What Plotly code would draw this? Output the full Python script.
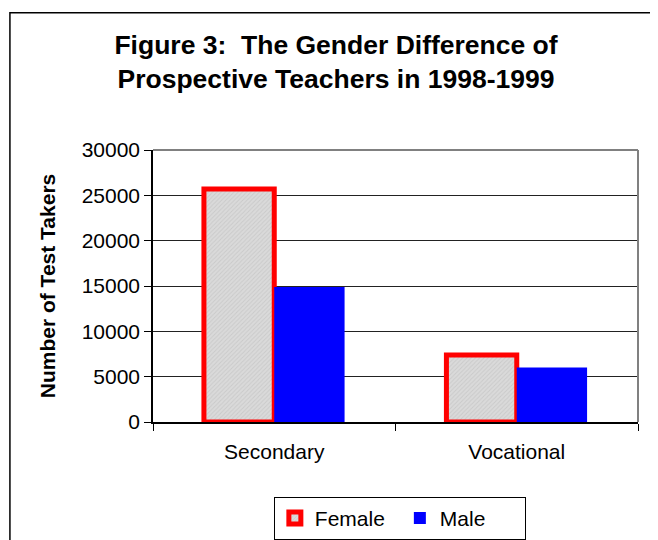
import plotly.graph_objects as go

categories = ["Secondary", "Vocational"]
female = [25700, 7400]
male = [14900, 6000]
y_ticks = [0, 5000, 10000, 15000, 20000, 25000, 30000]
y_tick_labels = ["0", "5000", "10000", "15000", "20000", "25000", "30000"]

FONT = "Arial, Liberation Sans, sans-serif"

fig = go.Figure()
fig.add_trace(go.Bar(
    x=categories, y=female, name="Female",
    marker=dict(
        color="#d6d6d6",
        line=dict(color="#ff0000", width=5),
        pattern=dict(shape="/", fgcolor="#b8b8b8", bgcolor="#dadada", size=3, solidity=0.3),
    ),
))
fig.add_trace(go.Bar(
    x=categories, y=male, name="Male",
    marker=dict(color="#0000ff", line=dict(width=0)),
))

fig.update_layout(
    width=650, height=532,
    margin=dict(l=145, r=20, t=142, b=118, autoexpand=False),
    paper_bgcolor="white", plot_bgcolor="white",
    font=dict(family=FONT, color="black", size=21),
    title=dict(
        text="<b>Figure 3:  The Gender Difference of<br>Prospective Teachers in 1998-1999</b>",
        x=(336 - 8) / 650, xanchor="center", xref="container", yref="container",
        y=1 - 46 / 532, yanchor="top",
        font=dict(size=26.5, family=FONT, color="black"),
    ),
    barmode="group", bargap=0.42, bargroupgap=0,
    showlegend=True,
    legend=dict(
        orientation="h", x=0.509, xanchor="center", y=-0.275, yanchor="top",
        bordercolor="black", borderwidth=1, font=dict(size=21, family=FONT),
        itemwidth=30, traceorder="normal", entrywidthmode="pixels", entrywidth=80,
    ),
    xaxis=dict(
        showline=True, linecolor="black", linewidth=1.5, mirror=False,
        ticks="outside", ticklen=7, tickcolor="black", tickson="boundaries",
        tickfont=dict(size=21), showgrid=False, ticklabelstandoff=10,
    ),
    yaxis=dict(
        range=[0, 30000], tickvals=y_ticks, ticktext=y_tick_labels,
        ticks="outside", ticklen=7, tickcolor="black",
        showline=True, linecolor="black", linewidth=1.5,
        showgrid=True, gridcolor="#222222", gridwidth=1,
        tickfont=dict(size=21),
        title=dict(text="<b>Number of Test Takers</b>", font=dict(size=21), standoff=20),
        zeroline=False,
    ),
    shapes=[
        dict(type="line", xref="paper", yref="paper", x0=0, x1=1, y0=1, y1=1,
             line=dict(color="#808080", width=2)),
        dict(type="line", xref="paper", yref="paper", x0=1, x1=1, y0=0, y1=1,
             line=dict(color="#808080", width=2)),
        dict(type="rect", xref="paper", yref="paper", x0=-0.295, x1=1.3, y0=-1, y1=1.505,
             line=dict(color="black", width=1.5), fillcolor="rgba(0,0,0,0)", layer="below"),
    ],
)

fig.write_html("out.html")
